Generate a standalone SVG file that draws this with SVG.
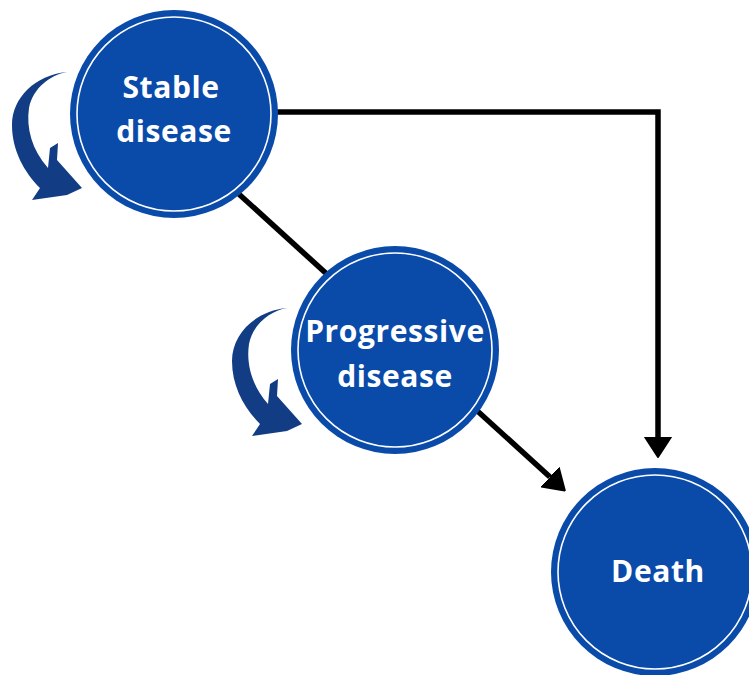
<svg xmlns="http://www.w3.org/2000/svg" width="749" height="675" viewBox="0 0 749 675">
  <style>
    .disc { fill: #0a4ba9; }
    .ring { fill: none; stroke: #ffffff; stroke-width: 1.6; }
    .label { font-family: "Open Sans", "Liberation Sans", sans-serif; font-weight: 700; font-size: 30px; letter-spacing: 0.6px; fill: #ffffff; text-anchor: middle; }
    .edge { fill: none; stroke: #000000; stroke-width: 5.5; stroke-linejoin: miter; }
    .loop { fill: #123d85; }
  </style>
  <defs>
    <marker id="head" viewBox="0 0 21 28" refX="0" refY="14" markerWidth="21" markerHeight="28" markerUnits="userSpaceOnUse" orient="auto">
      <path d="M0,1 L20,14 L0,27 Z" fill="#000000" stroke="#000000" stroke-width="2" stroke-linejoin="round"/>
    </marker>
    <path id="loopShape" d="M67,72 C50,75 33,88 29,108 C26,128 32,150 48,168 L50,148 L58,143 L57,160 L82,188 L67,195 L32,200 L40,188 C24,172 12,150 12,125 C12,98 35,75 67,72 Z"/>
  </defs>

  <rect width="749" height="675" fill="#ffffff"/>

  <!-- transitions -->
  <g id="connectors">
    <polyline class="edge" points="260,112 658,112 658,437" marker-end="url(#head)"/>
    <line class="edge" x1="230" y1="186" x2="550" y2="477" marker-end="url(#head)"/>
  </g>

  <!-- self-transition loops -->
  <g id="loops">
    <use href="#loopShape" class="loop"/>
    <use href="#loopShape" class="loop" transform="translate(220,236)"/>
  </g>

  <g id="stable">
    <circle class="disc" cx="174" cy="114" r="104"/>
    <circle class="ring" cx="174" cy="114" r="97"/>
    <text class="label" x="171" y="98">Stable</text>
    <text class="label" x="174" y="142">disease</text>
  </g>

  <g id="progressive">
    <circle class="disc" cx="395" cy="350" r="104"/>
    <circle class="ring" cx="395" cy="350" r="97"/>
    <text class="label" x="395" y="342">Progressive</text>
    <text class="label" x="395" y="387">disease</text>
  </g>

  <g id="death">
    <circle class="disc" cx="655" cy="572" r="104"/>
    <circle class="ring" cx="655" cy="572" r="97"/>
    <text class="label" x="658" y="582">Death</text>
  </g>
</svg>
